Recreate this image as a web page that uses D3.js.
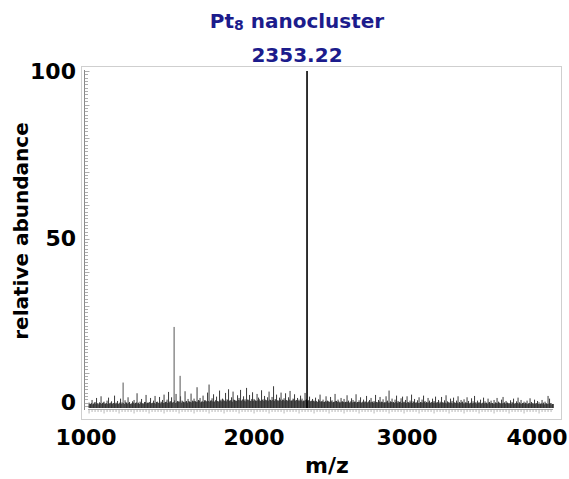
<!DOCTYPE html>
<html>
<head>
<meta charset="utf-8">
<script src="https://cdn.jsdelivr.net/npm/d3@7"></script>
<style>
  html, body { margin: 0; padding: 0; background: #fff; }
  svg { display: block; }
  text { font-family: "DejaVu Sans", "Noto Sans", sans-serif; font-weight: bold; }
</style>
</head>
<body>
<svg id="chart" width="569" height="479"></svg>
<script>
// Labelled peaks of the spectrum (m/z, relative abundance %)
const peakMz = [1127, 1467, 1507, 2353.22];
const peakAbundance = [7, 23.6, 9, 100];

// Baseline noise, sampled every 10 m/z starting at 900
const noiseStart = 900;
const noiseStep = 10;
const noiseAbundance = [
  1.0,0.6,1.8,0.7,1.2,2.4,0.8,1.1,2.9,0.9,
  1.3,0.7,1.6,2.5,0.8,1.4,0.9,3.1,1.0,1.5,
  0.8,2.2,1.1,0.9,1.7,1.0,2.6,1.2,0.7,1.4,
  1.8,0.9,3.8,1.0,1.3,2.1,0.8,1.2,3.3,1.0,
  1.1,2.4,0.9,1.6,3.0,1.2,1.0,2.7,1.3,1.8,
  3.4,1.2,1.9,4.2,1.4,2.6,1.1,1.7,3.6,1.5,
  1.4,2.9,1.6,1.2,4.4,1.5,2.1,1.3,3.7,1.6,
  2.2,1.4,5.6,1.8,2.4,1.3,3.1,1.7,1.5,4.0,
  6.4,1.6,2.3,3.5,1.5,2.8,1.4,4.6,1.9,2.2,
  1.5,3.9,2.0,5.0,1.7,2.6,4.3,1.8,1.6,3.2,
  2.4,4.8,1.8,2.9,2.0,5.4,1.9,3.3,1.6,4.1,
  2.1,1.6,3.6,2.5,1.5,4.7,2.0,3.0,1.7,2.6,
  4.3,1.8,2.7,5.9,2.0,3.4,1.6,2.5,4.0,1.9,
  2.3,3.8,1.7,2.6,4.5,1.6,2.2,3.5,1.8,2.4,
  1.9,3.1,2.2,1.6,3.9,2.0,1.7,2.8,1.5,2.1,
  1.6,2.5,1.3,2.0,3.4,1.4,1.9,1.2,2.9,1.6,
  1.3,2.7,1.7,1.2,3.6,1.5,1.9,1.1,2.4,1.4,
  2.1,1.2,3.2,1.6,1.1,2.3,1.8,1.3,3.5,1.2,
  1.7,2.6,1.1,1.9,1.4,3.0,1.2,1.8,2.4,1.3,
  1.5,3.3,1.2,1.8,2.7,1.3,2.0,1.1,2.9,1.6,
  4.6,1.4,2.2,1.2,1.9,3.1,1.5,1.2,2.3,2.8,
  1.3,1.8,2.9,1.1,1.6,3.4,1.4,2.1,1.0,1.7,
  2.6,1.2,1.9,3.1,1.5,1.2,2.4,1.6,1.1,2.2,
  1.5,2.8,1.2,1.8,1.3,2.7,1.1,1.7,3.2,1.4,
  1.1,2.2,1.5,2.5,1.0,1.6,2.9,1.2,1.8,1.3,
  2.0,1.1,2.6,1.5,0.9,2.3,1.4,3.0,1.1,1.6,
  1.2,1.9,0.9,2.5,1.4,1.0,2.2,1.2,1.6,0.9,
  1.8,1.1,2.4,1.3,0.9,1.9,2.7,1.1,1.5,1.0,
  0.8,1.7,1.2,2.2,0.9,1.4,2.5,1.1,1.8,0.9,
  1.3,1.0,1.6,0.8,2.3,1.2,0.9,1.9,0.8,1.5,
  1.1,0.7,1.8,1.0,1.3,0.8,3.0,2.2,0.9,0.6
];

// Low-level noise between the samples above (offset by 5 m/z)
const noiseFill = [
  0.6,0.9,0.5,1.0,0.7,0.8,0.5,0.9,0.6,1.1,
  0.7,0.9,0.6,0.8,1.0,0.6,0.9,0.7,0.8,0.6,
  1.0,0.7,0.8,0.6,1.1,0.7,0.9,0.6,0.8,1.0,
  0.7,1.1,0.8,0.6,1.0,0.8,0.7,1.2,0.8,0.9,
  1.2,0.8,1.0,0.9,0.7,1.3,0.9,0.8,1.1,0.9,
  1.0,1.3,0.9,1.1,1.4,1.0,1.2,0.9,1.1,1.3,
  1.2,1.0,1.4,1.1,1.3,1.0,1.5,1.2,1.1,1.4,
  1.5,1.2,1.3,1.6,1.1,1.4,1.2,1.7,1.3,1.5,
  1.3,1.7,1.4,1.2,1.8,1.5,1.3,1.6,1.4,1.9,
  1.6,1.4,1.8,1.5,1.7,1.3,1.9,1.6,1.5,1.8,
  1.7,1.5,2.0,1.6,1.4,1.9,1.7,1.5,2.1,1.6,
  1.8,1.5,1.7,2.0,1.6,1.8,1.5,1.9,1.7,1.6,
  1.9,1.6,1.8,1.5,2.0,1.7,1.6,1.9,1.5,1.8,
  1.6,1.8,1.5,1.9,1.6,1.7,2.0,1.5,1.8,1.6,
  1.5,1.7,1.4,1.6,1.8,1.5,1.7,1.4,1.6,1.5,
  1.3,1.5,1.2,1.6,1.3,1.4,1.2,1.5,1.3,1.4,
  1.2,1.4,1.1,1.3,1.5,1.2,1.4,1.1,1.3,1.2,
  1.1,1.3,1.2,1.0,1.4,1.1,1.2,1.3,1.0,1.2,
  1.2,1.0,1.3,1.1,1.2,1.0,1.4,1.1,1.2,1.0,
  1.1,1.2,1.0,1.3,1.1,1.2,1.0,1.1,1.3,1.0,
  1.0,1.2,1.1,0.9,1.2,1.0,1.1,1.3,0.9,1.1,
  1.1,0.9,1.2,1.0,1.1,0.9,1.2,1.0,1.1,0.9,
  0.9,1.1,1.0,1.2,0.9,1.0,1.1,0.9,1.2,1.0,
  1.0,0.9,1.1,0.8,1.0,1.1,0.9,1.0,0.8,1.1,
  0.9,1.0,0.8,1.1,0.9,1.0,0.8,0.9,1.1,0.8,
  0.8,1.0,0.9,0.7,1.0,0.8,0.9,1.0,0.7,0.9,
  0.9,0.7,1.0,0.8,0.9,0.7,1.0,0.8,0.9,0.7,
  0.7,0.9,0.8,1.0,0.7,0.8,0.9,0.7,1.0,0.8,
  0.8,0.7,0.9,0.6,0.8,0.9,0.7,0.8,0.6,0.9,
  0.7,0.8,0.6,0.9,0.7,0.8,0.6,0.7,0.9,0.6,
  0.6,0.8,0.7,0.5,0.8,0.6,0.7,0.8,0.5,0.6
];

const xTickValues = [1000, 2000, 3000, 4000];
const xTickShift = [-18, 0, 3, -17];
const yTickValues = [0, 50, 100];

const svg = d3.select("#chart");

const x = d3.scaleLinear().domain([893, 3993]).range([88, 553]);
const y = d3.scaleLinear().domain([0, 100]).range([406, 71]);

// plot frame
svg.append("rect")
  .attr("x", 81.5).attr("y", 66.5)
  .attr("width", 480).attr("height", 353)
  .attr("fill", "none").attr("stroke", "#cfcfcf").attr("stroke-width", 1);

// y axis with fine ticks
const yAxisX = 84.5;
svg.append("line")
  .attr("x1", yAxisX).attr("x2", yAxisX)
  .attr("y1", y(100) - 1).attr("y2", y(0) + 4)
  .attr("stroke", "#888").attr("stroke-width", 1);
svg.append("g").selectAll("line")
  .data(d3.range(0, 101, 1))
  .join("line")
  .attr("x1", yAxisX)
  .attr("x2", d => yAxisX + (d % 10 === 0 ? 5 : 3.5))
  .attr("y1", d => Math.round(y(d)) + 0.5)
  .attr("y2", d => Math.round(y(d)) + 0.5)
  .attr("stroke", "#999").attr("stroke-width", 0.8);

// x axis with fine ticks
const xAxisY = y(0) + 3.5;
svg.append("line")
  .attr("x1", x(893)).attr("x2", x(3993))
  .attr("y1", xAxisY).attr("y2", xAxisY)
  .attr("stroke", "#999").attr("stroke-width", 0.8);
svg.append("g").selectAll("line")
  .data(d3.range(900, 4000, 20))
  .join("line")
  .attr("x1", d => x(d)).attr("x2", d => x(d))
  .attr("y1", xAxisY)
  .attr("y2", d => xAxisY + (d % 100 === 0 ? 4 : 2.5))
  .attr("stroke", "#999").attr("stroke-width", 0.7);

// noise sticks
const noise = noiseAbundance.map((v, i) => ({ mz: noiseStart + i * noiseStep, v }))
  .concat(noiseFill.map((v, i) => ({ mz: noiseStart + noiseStep / 2 + i * noiseStep, v })));
svg.append("g").selectAll("line")
  .data(noise)
  .join("line")
  .attr("x1", d => x(d.mz)).attr("x2", d => x(d.mz))
  .attr("y1", y(0) + 2).attr("y2", d => y(d.v))
  .attr("stroke", "#222").attr("stroke-width", 0.9);

// labelled peaks
const peaks = peakMz.map((mz, i) => ({ mz, v: peakAbundance[i] }));
svg.append("g").selectAll("line")
  .data(peaks)
  .join("line")
  .attr("x1", d => x(d.mz)).attr("x2", d => x(d.mz))
  .attr("y1", y(0) + 2).attr("y2", d => y(d.v))
  .attr("stroke", d => d.v === 100 ? "#000" : "#555")
  .attr("stroke-width", d => d.v === 100 ? 1.6 : 1);

// tick labels
svg.append("g").selectAll("text")
  .data(xTickValues)
  .join("text")
  .attr("x", (d, i) => x(d) + xTickShift[i])
  .attr("y", 445)
  .attr("text-anchor", "middle")
  .attr("font-size", 22)
  .attr("fill", "#000")
  .text(d => d);

svg.append("g").selectAll("text")
  .data(yTickValues)
  .join("text")
  .attr("x", 76)
  .attr("y", d => y(d) + (d === 0 ? -4 : 0))
  .attr("dy", "0.36em")
  .attr("text-anchor", "end")
  .attr("font-size", 22)
  .attr("fill", "#000")
  .text(d => d);

// axis titles
svg.append("text")
  .attr("x", 327).attr("y", 473)
  .attr("text-anchor", "middle")
  .attr("font-size", 22)
  .attr("fill", "#000")
  .text("m/z");

svg.append("text")
  .attr("transform", "translate(28,231) rotate(-90)")
  .attr("text-anchor", "middle")
  .attr("font-size", 20)
  .attr("fill", "#000")
  .text("relative abundance");

// chart title
const title = svg.append("text")
  .attr("x", 297).attr("y", 28)
  .attr("text-anchor", "middle")
  .attr("font-size", 20)
  .attr("fill", "#1c1c8c");
title.append("tspan").text("Pt");
title.append("tspan").attr("font-size", 14).attr("dy", 2).text("8");
title.append("tspan").attr("dy", -2).text(" nanocluster");

svg.append("text")
  .attr("x", 297).attr("y", 62)
  .attr("text-anchor", "middle")
  .attr("font-size", 20)
  .attr("fill", "#1c1c8c")
  .text("2353.22");
</script>
</body>
</html>
